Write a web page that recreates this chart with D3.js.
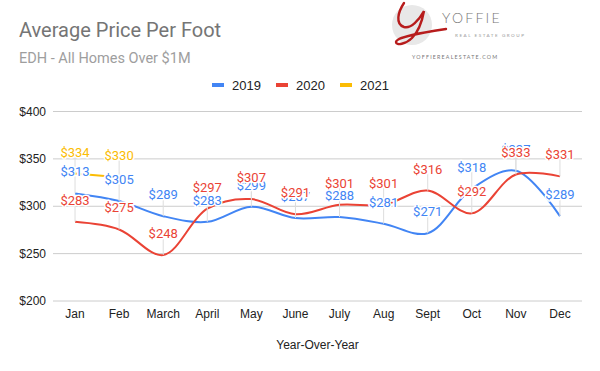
<!DOCTYPE html>
<html>
<head>
<meta charset="utf-8">
<script src="https://cdn.jsdelivr.net/npm/d3@7"></script>
<style>
  body { margin: 0; background: #fff; }
  svg { display: block; }
  .axis text { font-family: Arial, "Liberation Sans", sans-serif; font-size: 12px; fill: #222; }
  .lbl { font-family: Roboto, Arial, sans-serif; font-size: 13px; paint-order: stroke; stroke: #fff; stroke-width: 3px; stroke-linejoin: round; }
</style>
</head>
<body>
<div class="chart"></div>
<script>
// months on the x axis
const months = ["Jan","Feb","March","April","May","June","July","Aug","Sept","Oct","Nov","Dec"];
// price per foot, $
const sales2019 = [313, 305, 289, 283, 299, 287, 288, 281, 271, 318, 337, 289];
const sales2020 = [283, 275, 248, 297, 307, 291, 301, 301, 316, 292, 333, 331];
const sales2021 = [334, 330];
const yTicks = [200, 250, 300, 350, 400];

const series = [
  {name: "2019", color: "#4285F4", values: sales2019},
  {name: "2020", color: "#EA4335", values: sales2020},
  {name: "2021", color: "#FBBC04", values: sales2021}
];

const svg_width = 600;
const svg_height = 371;
const margin = {top: 111, right: 18, bottom: 70, left: 53};

const svg = d3.select(".chart").append("svg")
  .attr("width", svg_width).attr("height", svg_height);

// title + subtitle
svg.append("text").attr("x", 19).attr("y", 37)
  .style("font-family", "Roboto, Arial, sans-serif").style("font-size", "20px").style("fill", "#757575")
  .text("Average Price Per Foot");
svg.append("text").attr("x", 19).attr("y", 63)
  .style("font-family", "Roboto, Arial, sans-serif").style("font-size", "14.5px").style("fill", "#9e9e9e")
  .text("EDH - All Homes Over $1M");

// logo
const logo = svg.append("g").attr("class", "logo");
logo.append("circle").attr("cx", 412).attr("cy", 25).attr("r", 20).style("fill", "#e8e8e8");
logo.append("path")
  .attr("d", "M404,3 C398,12 395,24 404,27 C411,29 419,20 424,11 C422,22 418,32 412,38 C406,44 396,46 396,42 C396,37 420,33 446,29")
  .style("fill", "none").style("stroke", "#b71c1c").style("stroke-width", 2.4).style("stroke-linecap", "round");
logo.append("text").attr("x", 442).attr("y", 22.5)
  .style("font-family", "Lato, 'Open Sans', sans-serif").style("font-weight", 300).style("font-size", "14px").style("letter-spacing", "2.2px").style("fill", "#777")
  .text("YOFFIE");
logo.append("text").attr("x", 455).attr("y", 37)
  .style("font-family", "Lato, sans-serif").style("font-size", "4.6px").style("letter-spacing", "1.5px").style("fill", "#999")
  .text("REAL ESTATE GROUP");
logo.append("text").attr("x", 412).attr("y", 58.5)
  .style("font-family", "Lato, sans-serif").style("font-size", "5.3px").style("letter-spacing", "1.2px").style("fill", "#777")
  .text("YOFFIEREALESTATE.COM");

// legend
const legend = svg.append("g").attr("class", "legend");
const legendX = [212, 276, 340];
series.forEach((s, i) => {
  legend.append("rect").attr("x", legendX[i]).attr("y", 83).attr("width", 12).attr("height", 4).style("fill", s.color);
  legend.append("text").attr("x", legendX[i] + 20).attr("y", 89.5)
    .style("font-family", "Arial, 'Liberation Sans', sans-serif").style("font-size", "13px").style("fill", "#222")
    .text(s.name);
});

const chart_width = svg_width - margin.left - margin.right;
const chart_height = svg_height - margin.top - margin.bottom;

const g = svg.append("g").attr("transform", `translate(${margin.left},${margin.top})`);

const xScale = d3.scaleBand().domain(months).range([0, chart_width]);
const yScale = d3.scaleLinear().domain([200, 400]).range([chart_height - 0.5, 0]);
const xPos = d => xScale(d) + xScale.bandwidth() / 2;

// y axis + gridlines
const yAxis = d3.axisLeft(yScale).tickValues(yTicks).tickFormat(d => "$" + d)
  .tickSize(-chart_width).tickPadding(7);
const yAxisDraw = g.append("g").attr("class", "y axis").call(yAxis);
yAxisDraw.select(".domain").remove();
yAxisDraw.selectAll("line").style("stroke", "#ccc");
yAxisDraw.selectAll("text").attr("dy", "0.35em");

// x axis
const xAxis = d3.axisBottom(xScale).tickSize(0).tickPadding(0);
const xAxisDraw = g.append("g").attr("class", "x axis")
  .attr("transform", `translate(0,${chart_height})`).call(xAxis);
xAxisDraw.select(".domain").remove();
xAxisDraw.selectAll("text").attr("y", 16.5).attr("dy", 0);

svg.append("text").attr("x", margin.left + chart_width / 2).attr("y", 349.3)
  .attr("text-anchor", "middle")
  .style("font-family", "Arial, 'Liberation Sans', sans-serif").style("font-size", "12px").style("fill", "#222")
  .text("Year-Over-Year");

// lines
const line = d3.line()
  .x((d, i) => xPos(months[i]))
  .y(d => yScale(d))
  .curve(d3.curveCatmullRom.alpha(0.5));

g.append("g").attr("class", "lines").selectAll("path").data(series).join("path")
  .attr("d", d => line(d.values))
  .style("fill", "none").style("stroke", d => d.color).style("stroke-width", 2);

// annotation stems
const labelOffset = 17;
const points = series.flatMap(s => s.values.map((v, i) => ({month: months[i], value: v, color: s.color})));

g.append("g").attr("class", "stems").selectAll("line").data(points).join("line")
  .attr("x1", d => xPos(d.month)).attr("x2", d => xPos(d.month))
  .attr("y1", d => yScale(d.value)).attr("y2", d => yScale(d.value) - labelOffset)
  .style("stroke", "#ddd").style("stroke-width", 1);

// annotation labels
g.append("g").attr("class", "labels").selectAll("text").data(points).join("text")
  .attr("class", "lbl")
  .attr("x", d => xPos(d.month)).attr("y", d => yScale(d.value) - labelOffset)
  .attr("text-anchor", "middle")
  .style("fill", d => d.color)
  .text(d => "$" + d.value);
</script>
</body>
</html>
